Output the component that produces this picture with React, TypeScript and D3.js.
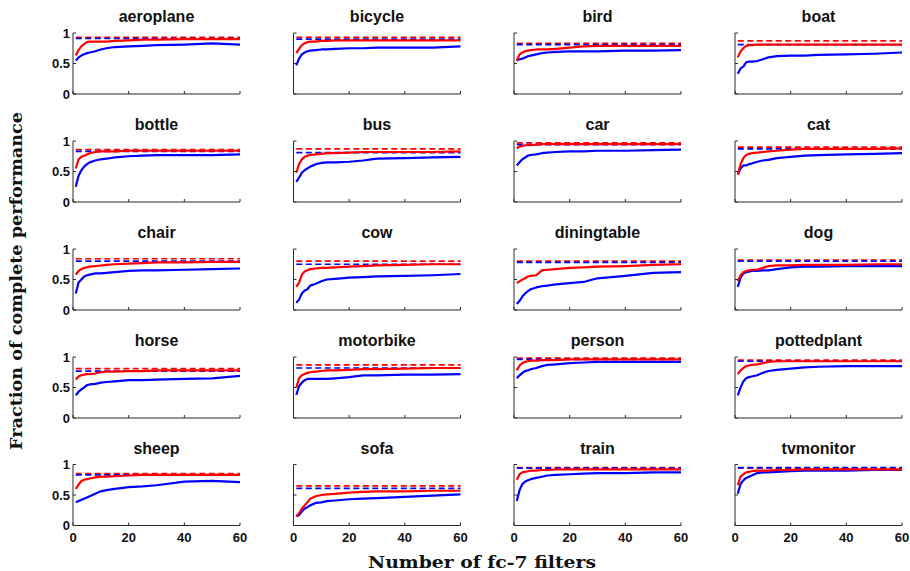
import React from 'react';
import * as d3 from 'd3';

const categories = [
  'aeroplane', 'bicycle', 'bird', 'boat',
  'bottle', 'bus', 'car', 'cat',
  'chair', 'cow', 'diningtable', 'dog',
  'horse', 'motorbike', 'person', 'pottedplant',
  'sheep', 'sofa', 'train', 'tvmonitor',
];

// number of fc-7 filters at which the curves were read
const filterCounts = [1, 2, 3, 4, 5, 6, 8, 10, 12, 15, 20, 25, 30, 40, 50, 60];

const redCurves = [
  [0.63, 0.72, 0.78, 0.82, 0.85, 0.86, 0.86, 0.86, 0.86, 0.87, 0.88, 0.89, 0.89, 0.90, 0.90, 0.90],
  [0.67, 0.74, 0.80, 0.83, 0.85, 0.86, 0.86, 0.87, 0.87, 0.88, 0.88, 0.88, 0.88, 0.88, 0.88, 0.88],
  [0.55, 0.65, 0.68, 0.70, 0.71, 0.72, 0.73, 0.73, 0.73, 0.74, 0.76, 0.78, 0.79, 0.79, 0.79, 0.79],
  [0.60, 0.70, 0.75, 0.79, 0.80, 0.80, 0.81, 0.81, 0.81, 0.81, 0.81, 0.81, 0.81, 0.81, 0.81, 0.81],
  [0.55, 0.70, 0.74, 0.76, 0.78, 0.80, 0.82, 0.83, 0.83, 0.83, 0.84, 0.84, 0.84, 0.84, 0.84, 0.84],
  [0.48, 0.62, 0.70, 0.74, 0.76, 0.77, 0.78, 0.79, 0.80, 0.80, 0.81, 0.82, 0.82, 0.82, 0.82, 0.83],
  [0.88, 0.91, 0.92, 0.93, 0.93, 0.93, 0.94, 0.95, 0.95, 0.95, 0.95, 0.95, 0.95, 0.95, 0.95, 0.95],
  [0.45, 0.62, 0.72, 0.77, 0.79, 0.80, 0.81, 0.82, 0.83, 0.84, 0.86, 0.87, 0.87, 0.87, 0.87, 0.88],
  [0.58, 0.64, 0.67, 0.69, 0.70, 0.71, 0.72, 0.73, 0.74, 0.75, 0.76, 0.77, 0.78, 0.78, 0.79, 0.79],
  [0.38, 0.45, 0.58, 0.63, 0.65, 0.67, 0.68, 0.69, 0.69, 0.70, 0.71, 0.72, 0.73, 0.74, 0.75, 0.75],
  [0.44, 0.47, 0.50, 0.52, 0.55, 0.56, 0.57, 0.65, 0.66, 0.67, 0.69, 0.70, 0.71, 0.72, 0.74, 0.75],
  [0.47, 0.57, 0.62, 0.64, 0.65, 0.66, 0.66, 0.69, 0.72, 0.73, 0.73, 0.74, 0.74, 0.74, 0.75, 0.75],
  [0.63, 0.68, 0.70, 0.71, 0.72, 0.72, 0.73, 0.75, 0.76, 0.76, 0.77, 0.77, 0.78, 0.78, 0.78, 0.78],
  [0.50, 0.65, 0.70, 0.72, 0.74, 0.75, 0.76, 0.77, 0.78, 0.78, 0.79, 0.80, 0.80, 0.81, 0.82, 0.82],
  [0.78, 0.86, 0.90, 0.92, 0.93, 0.94, 0.94, 0.95, 0.95, 0.95, 0.96, 0.96, 0.96, 0.96, 0.96, 0.96],
  [0.72, 0.78, 0.82, 0.85, 0.86, 0.87, 0.88, 0.90, 0.92, 0.93, 0.93, 0.93, 0.93, 0.93, 0.93, 0.93],
  [0.60, 0.67, 0.73, 0.75, 0.76, 0.77, 0.79, 0.80, 0.80, 0.81, 0.82, 0.83, 0.83, 0.83, 0.83, 0.83],
  [0.15, 0.20, 0.28, 0.33, 0.38, 0.44, 0.48, 0.50, 0.51, 0.52, 0.54, 0.55, 0.56, 0.56, 0.57, 0.57],
  [0.75, 0.84, 0.87, 0.88, 0.89, 0.90, 0.90, 0.91, 0.91, 0.92, 0.92, 0.92, 0.92, 0.92, 0.92, 0.92],
  [0.66, 0.80, 0.84, 0.87, 0.88, 0.89, 0.90, 0.90, 0.90, 0.91, 0.91, 0.92, 0.92, 0.92, 0.92, 0.92],
];

const blueCurves = [
  [0.55, 0.60, 0.63, 0.65, 0.67, 0.68, 0.70, 0.73, 0.75, 0.77, 0.78, 0.79, 0.80, 0.81, 0.83, 0.81],
  [0.47, 0.58, 0.65, 0.68, 0.70, 0.71, 0.72, 0.73, 0.73, 0.74, 0.75, 0.75, 0.76, 0.76, 0.76, 0.78],
  [0.55, 0.57, 0.58, 0.60, 0.62, 0.63, 0.65, 0.67, 0.68, 0.69, 0.70, 0.70, 0.70, 0.71, 0.71, 0.72],
  [0.33, 0.42, 0.45, 0.52, 0.53, 0.53, 0.54, 0.57, 0.60, 0.62, 0.63, 0.63, 0.64, 0.65, 0.66, 0.68],
  [0.25, 0.43, 0.52, 0.58, 0.62, 0.65, 0.68, 0.70, 0.71, 0.73, 0.75, 0.76, 0.77, 0.77, 0.77, 0.78],
  [0.33, 0.40, 0.48, 0.52, 0.55, 0.58, 0.62, 0.64, 0.65, 0.65, 0.66, 0.68, 0.71, 0.72, 0.73, 0.74],
  [0.60, 0.65, 0.70, 0.73, 0.76, 0.77, 0.78, 0.80, 0.81, 0.82, 0.83, 0.83, 0.84, 0.84, 0.85, 0.86],
  [0.45, 0.55, 0.60, 0.60, 0.62, 0.63, 0.66, 0.68, 0.69, 0.72, 0.74, 0.76, 0.77, 0.78, 0.79, 0.80],
  [0.27, 0.45, 0.50, 0.55, 0.57, 0.58, 0.60, 0.60, 0.61, 0.62, 0.64, 0.65, 0.65, 0.66, 0.67, 0.68],
  [0.12, 0.17, 0.27, 0.32, 0.34, 0.40, 0.43, 0.47, 0.50, 0.51, 0.53, 0.54, 0.55, 0.56, 0.57, 0.59],
  [0.10, 0.15, 0.22, 0.27, 0.31, 0.34, 0.37, 0.39, 0.40, 0.42, 0.44, 0.46, 0.52, 0.56, 0.61, 0.62],
  [0.38, 0.53, 0.60, 0.62, 0.63, 0.64, 0.64, 0.65, 0.65, 0.67, 0.70, 0.71, 0.71, 0.72, 0.72, 0.72],
  [0.37, 0.43, 0.47, 0.50, 0.54, 0.55, 0.56, 0.58, 0.59, 0.60, 0.62, 0.62, 0.63, 0.64, 0.65, 0.69],
  [0.38, 0.52, 0.58, 0.62, 0.64, 0.64, 0.64, 0.64, 0.64, 0.65, 0.67, 0.70, 0.70, 0.71, 0.71, 0.72],
  [0.65, 0.70, 0.74, 0.77, 0.78, 0.80, 0.82, 0.85, 0.87, 0.88, 0.90, 0.91, 0.92, 0.92, 0.92, 0.92],
  [0.37, 0.50, 0.60, 0.65, 0.67, 0.68, 0.70, 0.74, 0.77, 0.79, 0.81, 0.83, 0.84, 0.85, 0.85, 0.85],
  [0.38, 0.40, 0.42, 0.44, 0.46, 0.48, 0.52, 0.56, 0.58, 0.60, 0.63, 0.64, 0.66, 0.72, 0.73, 0.71],
  [0.15, 0.17, 0.23, 0.28, 0.30, 0.33, 0.37, 0.38, 0.40, 0.41, 0.43, 0.44, 0.45, 0.47, 0.49, 0.51],
  [0.40, 0.58, 0.68, 0.72, 0.74, 0.76, 0.78, 0.80, 0.82, 0.83, 0.84, 0.85, 0.86, 0.86, 0.87, 0.87],
  [0.52, 0.68, 0.74, 0.78, 0.80, 0.82, 0.86, 0.87, 0.87, 0.88, 0.89, 0.90, 0.90, 0.90, 0.91, 0.91],
];

const redDashed = [0.93, 0.93, 0.83, 0.87, 0.86, 0.87, 0.97, 0.90, 0.84, 0.80, 0.80, 0.82, 0.81, 0.87, 0.98, 0.95, 0.85, 0.65, 0.95, 0.94];
const blueDashed = [0.91, 0.90, 0.81, 0.81, 0.83, 0.81, 0.94, 0.87, 0.80, 0.75, 0.78, 0.80, 0.77, 0.82, 0.96, 0.93, 0.83, 0.61, 0.94, 0.95];

const xTicks = [0, 20, 40, 60];
const yTicks = [0, 0.5, 1];

const W = 910;
const H = 571;
const colX = [73, 293.5, 514, 735];
const rowY = [33, 141, 249, 357, 464.5];
const panelW = 167;
const panelH = 61;
const axisColor = '#2b2b2b';
const sans = '"Liberation Sans", Arial, Helvetica, sans-serif';
const serif = '"DejaVu Serif", "Liberation Serif", serif';

const Panel: React.FC<{ idx: number }> = ({ idx }) => {
  const col = idx % 4;
  const row = Math.floor(idx / 4);
  const x = d3.scaleLinear().domain([0, 60]).range([0, panelW]);
  const y = d3.scaleLinear().domain([0, 1]).range([panelH, 0]);
  const line = d3.line<number>().x((_, i) => x(filterCounts[i])).y(d => y(d));

  return (
    <g transform={`translate(${colX[col]},${rowY[row]})`}>
      <text x={panelW / 2} y={-11} textAnchor="middle" fontFamily={sans} fontWeight="bold" fontSize={16} fill="#111">
        {categories[idx]}
      </text>
      <line x1={x(1)} x2={x(60)} y1={y(redDashed[idx])} y2={y(redDashed[idx])} stroke="#ff0000" strokeWidth={1.7} strokeDasharray="6,3.5" />
      <line x1={x(1)} x2={x(60)} y1={y(blueDashed[idx])} y2={y(blueDashed[idx])} stroke="#0000ff" strokeWidth={1.7} strokeDasharray="6,3.5" />
      <path d={line(blueCurves[idx]) || ''} fill="none" stroke="#0000ff" strokeWidth={2.2} strokeLinejoin="round" />
      <path d={line(redCurves[idx]) || ''} fill="none" stroke="#ff0000" strokeWidth={2.2} strokeLinejoin="round" />
      {/* axes */}
      <line x1={0} x2={0} y1={0} y2={panelH} stroke={axisColor} strokeWidth={1} />
      <line x1={0} x2={panelW} y1={panelH} y2={panelH} stroke={axisColor} strokeWidth={1} />
      {xTicks.map(t => (
        <line key={'xt' + t} x1={x(t)} x2={x(t)} y1={panelH} y2={panelH - 3} stroke={axisColor} strokeWidth={1} />
      ))}
      {yTicks.map(t => (
        <line key={'yt' + t} x1={0} x2={3} y1={y(t)} y2={y(t)} stroke={axisColor} strokeWidth={1} />
      ))}
      {col === 0 && yTicks.map(t => (
        <text key={'yl' + t} x={-3} y={y(t)} dy="0.36em" textAnchor="end" fontFamily={sans} fontWeight="bold" fontSize={13} fill="#111">
          {t}
        </text>
      ))}
      {row === 4 && xTicks.map(t => (
        <text key={'xl' + t} x={x(t)} y={panelH + 16} textAnchor="middle" fontFamily={sans} fontWeight="bold" fontSize={13} fill="#111">
          {t}
        </text>
      ))}
    </g>
  );
};

export default function App() {
  return (
    <svg width={W} height={H} style={{ position: 'absolute', left: 0, top: 0, background: '#fff' }}>
      {categories.map((_, i) => <Panel key={i} idx={i} />)}
      <text transform={`translate(22,281) rotate(-90)`} textAnchor="middle" fontFamily={serif} fontWeight="bold" fontSize={16.5} fill="#111" textLength={338} lengthAdjust="spacingAndGlyphs">
        Fraction of complete performance
      </text>
      <text x={482} y={568} textAnchor="middle" fontFamily={serif} fontWeight="bold" fontSize={16.5} fill="#111" textLength={228} lengthAdjust="spacingAndGlyphs">
        Number of fc-7 filters
      </text>
    </svg>
  );
}
